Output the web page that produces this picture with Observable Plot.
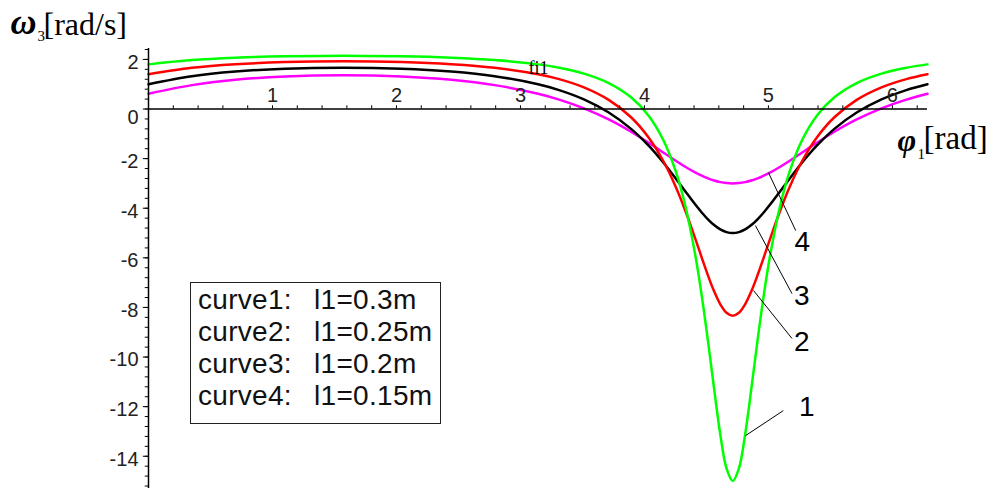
<!DOCTYPE html>
<html>
<head>
<meta charset="utf-8">
<script src="https://cdn.jsdelivr.net/npm/d3@7"></script>
<script src="https://cdn.jsdelivr.net/npm/@observablehq/plot@0.6"></script>
<style>
  html, body { margin: 0; padding: 0; background: #fff; }
  #wrap { position: relative; width: 998px; height: 488px; overflow: hidden; }
  #legend {
    position: absolute; left: 190px; top: 282px; width: 251px; height: 142px;
    border: 1.5px solid #222; background: #fff;
    font-family: "Liberation Sans", Arial, sans-serif; font-size: 28px; line-height: 32px;
    padding: 1px 0 0 7px; box-sizing: border-box; white-space: pre; color: #111;
    word-spacing: 3px; letter-spacing: 0.3px;
  }
</style>
</head>
<body>
<div id="wrap"></div>
<script>
// crank angle phi1 [rad]
const phi = [0, 0.35, 0.7, 1.1, 1.571, 2.042, 2.442, 2.792, 3.142,
  3.312, 3.512, 3.712, 3.892, 4.032, 4.152, 4.252, 4.332, 4.412, 4.462, 4.512, 4.562, 4.612, 4.662,
  4.712,
  4.762, 4.812, 4.862, 4.912, 4.962, 5.012, 5.092, 5.172, 5.272, 5.392, 5.532, 5.712, 5.912, 6.112, 6.283];
// omega3 [rad/s] for each curve
const curve1 = [1.8, 1.973, 2.067, 2.123, 2.143, 2.123, 2.067, 1.973, 1.8,
  1.664, 1.427, 1.046, 0.471, -0.261, -1.251, -2.507, -3.953, -5.946, -7.522, -9.337, -11.285, -13.126, -14.49,
  -15,
  -14.49, -13.126, -11.285, -9.337, -7.522, -5.946, -3.953, -2.507, -1.251, -0.261, 0.471, 1.046, 1.427, 1.664, 1.8];
const curve2 = [1.404, 1.663, 1.806, 1.892, 1.923, 1.892, 1.806, 1.663, 1.404,
  1.207, 0.875, 0.37, -0.333, -1.139, -2.095, -3.131, -4.13, -5.255, -5.988, -6.703, -7.35, -7.873, -8.214,
  -8.333,
  -8.214, -7.873, -7.35, -6.703, -5.988, -5.255, -4.13, -3.131, -2.095, -1.139, -0.333, 0.37, 0.875, 1.207, 1.404];
const curve3 = [1.0, 1.323, 1.51, 1.624, 1.667, 1.624, 1.51, 1.323, 1.0,
  0.764, 0.388, -0.142, -0.802, -1.469, -2.156, -2.797, -3.335, -3.863, -4.171, -4.446, -4.678, -4.853, -4.963,
  -5,
  -4.963, -4.853, -4.678, -4.446, -4.171, -3.863, -3.335, -2.797, -2.156, -1.469, -0.802, -0.142, 0.388, 0.764, 1.0];
const curve4 = [0.616, 0.963, 1.177, 1.313, 1.364, 1.313, 1.177, 0.963, 0.616,
  0.379, 0.027, -0.422, -0.916, -1.354, -1.753, -2.085, -2.337, -2.566, -2.69, -2.797, -2.884, -2.948, -2.987,
  -3,
  -2.987, -2.948, -2.884, -2.797, -2.69, -2.566, -2.337, -2.085, -1.753, -1.354, -0.916, -0.422, 0.027, 0.379, 0.616];

const seriesNames = ["curve4", "curve3", "curve2", "curve1"];
const seriesColors = ["#ff00ff", "#000000", "#ff0000", "#00ff00"];
const legendLines = ["curve1:  l1=0.3m", "curve2:  l1=0.25m", "curve3:  l1=0.2m", "curve4:  l1=0.15m"];

const xTicks = [1, 2, 3, 4, 5, 6];
const yTicks = [2, -2, -4, -6, -8, -10, -12, -14];
const yZeroTick = [0];

// curve number annotations (label anchor and leader line in data units)
const annNames = ["1", "2", "3", "4"];
const annLabelX = [5.31, 5.27, 5.27, 5.274];
const annLabelY = [-12.02, -9.40, -7.52, -5.38];
const annFromX = [4.815, 4.88, 4.895, 5.0];
const annFromY = [-13.17, -7.32, -4.70, -2.56];
const annToX = [5.12, 5.19, 5.19, 5.22];
const annToY = [-12.16, -9.25, -7.44, -4.90];

const series = {curve1, curve2, curve3, curve4};
const rows = seriesNames.flatMap(name => phi.map((p, i) => ({name, phi: p, w: series[name][i]})));
const ann = annNames.map((t, i) => ({t, lx: annLabelX[i], ly: annLabelY[i], x1: annFromX[i], y1: annFromY[i], x2: annToX[i], y2: annToY[i]}));

const xMinor = d3.range(1, 32).map(i => i * 0.2);
const yMinor = d3.range(-38, 7).map(i => i * 0.4);

const sans = "'Liberation Sans', Arial, sans-serif";
const serif = "'Liberation Serif', 'Times New Roman', serif";

const chart = Plot.plot({
  width: 998, height: 488,
  marginLeft: 148, marginRight: 71, marginTop: 48, marginBottom: 0,
  style: {background: "#fff", overflow: "visible"},
  x: {domain: [0, 6.283], axis: null},
  y: {domain: [-15.3, 2.44], axis: null},
  color: {domain: seriesNames, range: seriesColors},
  marks: [
    Plot.line(rows, {x: "phi", y: "w", z: "name", stroke: "name", strokeWidth: 2.5, curve: "catmull-rom"}),
    Plot.ruleY([0], {stroke: "#000", strokeWidth: 1.5}),
    Plot.ruleX([0], {stroke: "#000", strokeWidth: 1.5}),
    Plot.ruleX(xMinor, {x: d => d, y1: 0, y2: 0.13, stroke: "#000", strokeWidth: 1}),
    Plot.ruleY(yMinor, {y: d => d, x1: -0.026, x2: 0, stroke: "#000", strokeWidth: 1}),
    Plot.ruleY([...yTicks, 0], {y: d => d, x1: -0.042, x2: 0, stroke: "#000", strokeWidth: 1}),
    Plot.text(xTicks, {x: d => d, y: 0, dy: -13, text: d => String(d), fontSize: 20, fontFamily: sans, fill: "#222", lineAnchor: "middle"}),
    Plot.text(yTicks, {x: 0, y: d => d, dx: -10, dy: 3, text: d => String(d), textAnchor: "end", fontSize: 20, fontFamily: sans, fill: "#222", lineAnchor: "middle"}),
    Plot.text(yZeroTick, {x: 0, y: d => d, dx: -10, dy: 9, text: d => String(d), textAnchor: "end", fontSize: 20, fontFamily: sans, fill: "#222", lineAnchor: "middle"}),
    Plot.text(["fi1"], {frameAnchor: "top-left", dx: 380, dy: 25, text: d => d, textAnchor: "start", lineAnchor: "bottom", fontSize: 18, fontFamily: serif, fill: "#000"}),
    Plot.link(ann, {x1: "x1", y1: "y1", x2: "x2", y2: "y2", stroke: "#000", strokeWidth: 1}),
    Plot.text(ann, {x: "lx", y: "ly", text: "t", fontSize: 28, fontFamily: sans, fill: "#000", lineAnchor: "middle"}),
    // axis titles
    Plot.text(["ω"], {frameAnchor: "top-left", dx: -138, dy: -15, text: d => d, textAnchor: "start", lineAnchor: "bottom", fontSize: 36, fontFamily: serif, fontWeight: "bold", fontStyle: "italic", fill: "#000"}),
    Plot.text(["3"], {frameAnchor: "top-left", dx: -111, dy: -8, text: d => d, textAnchor: "start", lineAnchor: "bottom", fontSize: 15, fontFamily: serif, fill: "#000"}),
    Plot.text(["[rad/s]"], {frameAnchor: "top-left", dx: -105, dy: -14, text: d => d, textAnchor: "start", lineAnchor: "bottom", fontSize: 32, fontFamily: serif, fill: "#000"}),
    Plot.text(["φ"], {frameAnchor: "top-left", dx: 749, dy: 102, text: d => d, textAnchor: "start", lineAnchor: "bottom", fontSize: 32, fontFamily: serif, fontWeight: "bold", fontStyle: "italic", fill: "#000"}),
    Plot.text(["1"], {frameAnchor: "top-left", dx: 769, dy: 110, text: d => d, textAnchor: "start", lineAnchor: "bottom", fontSize: 15, fontFamily: serif, fill: "#000"}),
    Plot.text(["[rad]"], {frameAnchor: "top-left", dx: 775, dy: 100, text: d => d, textAnchor: "start", lineAnchor: "bottom", fontSize: 33, fontFamily: serif, fill: "#000"})
  ]
});

const wrap = document.getElementById("wrap");
wrap.appendChild(chart);
const legend = document.createElement("div");
legend.id = "legend";
legend.textContent = legendLines.join("\n");
wrap.appendChild(legend);
</script>
</body>
</html>
